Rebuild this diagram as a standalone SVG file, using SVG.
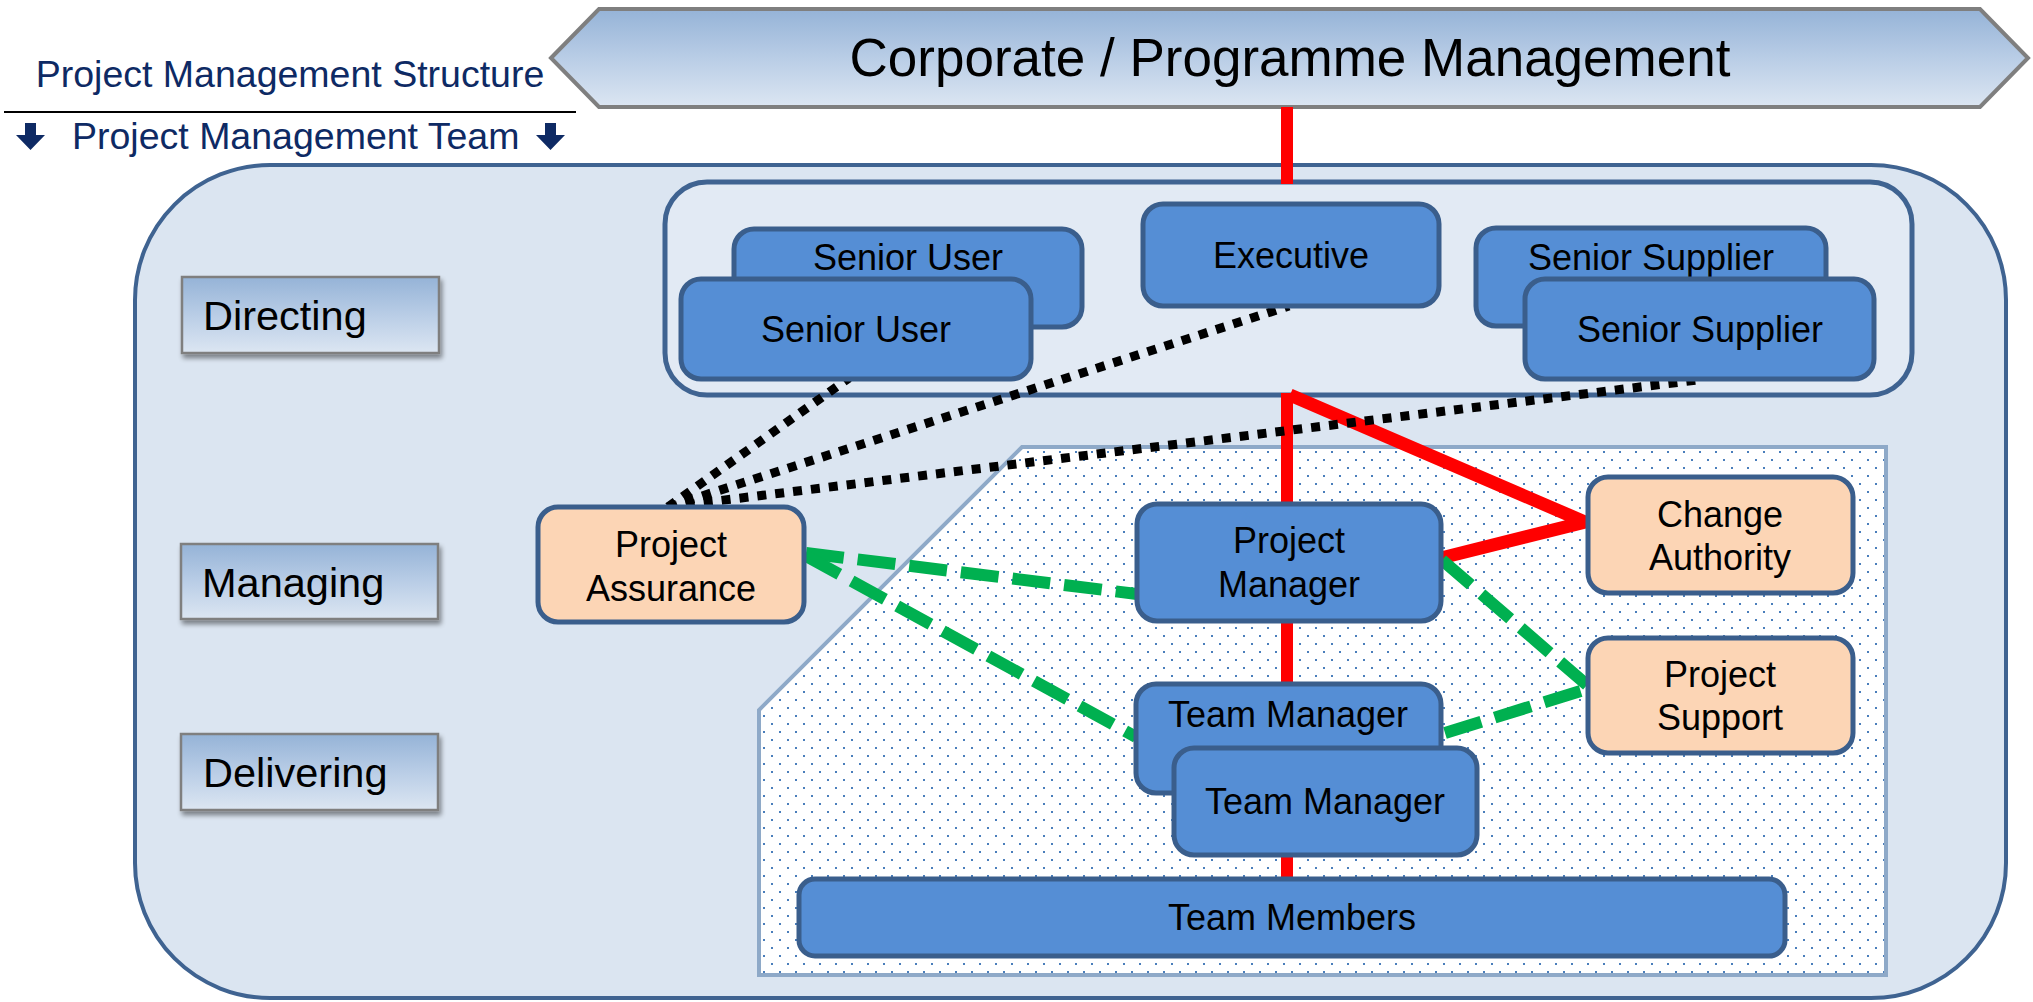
<svg xmlns="http://www.w3.org/2000/svg" width="2033" height="1002" viewBox="0 0 2033 1002">
<defs>
<style>
text{font-family:"Liberation Sans",Arial,sans-serif;}
.node{fill:#558ed5;stroke:#3a5e8c;stroke-width:5;}
.peach{fill:#fcd5b5;stroke:#3a5e8c;stroke-width:5;}
.nt{font-size:36px;fill:#000;text-anchor:middle;}
.phase{fill:url(#gradPhase);stroke:#7f7f7f;stroke-width:2.5;}
.pt{font-size:41.5px;fill:#000;}
.navy{fill:#0e2a64;font-size:37.5px;}
.red{stroke:#ff0000;fill:none;stroke-linejoin:miter;}
.dot{stroke:#000;stroke-width:9;stroke-dasharray:9 9;fill:none;}
.green{stroke:#00b050;stroke-width:12;stroke-dasharray:38 14;fill:none;}
</style>
<linearGradient id="gradPhase" x1="0" y1="0" x2="0" y2="1">
<stop offset="0" stop-color="#95b3d7"/>
<stop offset="0.5" stop-color="#b9cde6"/>
<stop offset="1" stop-color="#dce6f2"/>
</linearGradient>
<pattern id="dots" x="0" y="0" width="16" height="16" patternUnits="userSpaceOnUse">
<rect width="16" height="16" fill="#ffffff"/>
<rect x="3" y="3" width="2" height="2" fill="#4a7ebb"/>
<rect x="11" y="11" width="2" height="2" fill="#4a7ebb"/>
</pattern>
<filter id="shadow" x="-10%" y="-10%" width="120%" height="140%">
<feGaussianBlur in="SourceAlpha" stdDeviation="2.5"/>
<feOffset dx="2" dy="4" result="b"/>
<feComponentTransfer><feFuncA type="linear" slope="0.45"/></feComponentTransfer>
<feMerge><feMergeNode/><feMergeNode in="SourceGraphic"/></feMerge>
</filter>
</defs>

<rect width="2033" height="1002" fill="#ffffff"/>

<g id="header">
<text class="navy" x="290" y="87" text-anchor="middle">Project Management Structure</text>
<line x1="4" y1="112" x2="576" y2="112" stroke="#000" stroke-width="2"/>
<polygon points="25,123 36,123 36,135 45,135 30.5,150 16,135 25,135" fill="#0e2a64"/>
<text class="navy" x="72" y="149">Project Management Team</text>
<polygon points="545,123 556,123 556,135 565,135 550.5,150 536,135 545,135" fill="#0e2a64"/>
</g>

<g id="corporate">
<polygon points="551,58 599,9 1980,9 2028,58 1980,107 599,107" fill="url(#gradPhase)" stroke="#7f7f7f" stroke-width="4"/>
<text x="1290" y="76" font-size="53" text-anchor="middle" fill="#000">Corporate / Programme Management</text>
</g>

<g id="team-container">
<rect x="135" y="165" width="1871" height="833" rx="135" ry="135" fill="#dbe5f1" stroke="#3f6391" stroke-width="4"/>
</g>

<g id="board-container">
<rect x="665" y="182" width="1247" height="213" rx="42" ry="42" fill="#e2eaf4" stroke="#3f6391" stroke-width="5"/>
</g>

<g id="delivery-area">
<polygon points="1022,447 1886,447 1886,975 759,975 759,710" fill="url(#dots)" stroke="#8ea9c8" stroke-width="4"/>
</g>

<g id="phase-directing"><rect class="phase" x="182" y="277" width="257" height="76" filter="url(#shadow)"/><text class="pt" x="203" y="330">Directing</text></g>
<g id="phase-managing"><rect class="phase" x="181" y="544" width="257" height="75" filter="url(#shadow)"/><text class="pt" x="202" y="597">Managing</text></g>
<g id="phase-delivering"><rect class="phase" x="181" y="734" width="257" height="76" filter="url(#shadow)"/><text class="pt" x="203" y="787">Delivering</text></g>

<g id="connectors">
<line class="red" x1="1287" y1="107" x2="1287" y2="184" stroke-width="12"/>
<polyline class="red" points="1287,504 1287,393" stroke-width="12"/>
<polyline class="red" points="1290,395 1585,522 1441,558" stroke-width="13"/>
<line class="red" x1="1287" y1="621" x2="1287" y2="684" stroke-width="12"/>
<line class="red" x1="1287" y1="855" x2="1287" y2="879" stroke-width="12"/>
<line class="green" x1="806" y1="553" x2="1137" y2="594"/>
<line class="green" x1="806" y1="556" x2="1136" y2="737"/>
<line class="green" x1="1442" y1="560" x2="1587" y2="685"/>
<line class="green" x1="1445" y1="733" x2="1587" y2="689"/>
<line class="dot" x1="668" y1="507" x2="849" y2="378"/>
<line class="dot" x1="668" y1="507" x2="1289" y2="306"/>
<line class="dot" x1="668" y1="507" x2="1697" y2="380"/>
</g>

<g id="senior-user-back"><rect class="node" x="734" y="229" width="348" height="98" rx="20"/><text class="nt" x="908" y="270">Senior User</text></g>
<g id="senior-user-front"><rect class="node" x="681" y="279" width="350" height="100" rx="20"/><text class="nt" x="856" y="342">Senior User</text></g>
<g id="executive"><rect class="node" x="1143" y="204" width="296" height="102" rx="20"/><text class="nt" x="1291" y="268">Executive</text></g>
<g id="senior-supplier-back"><rect class="node" x="1476" y="228" width="350" height="98" rx="20"/><text class="nt" x="1651" y="270">Senior Supplier</text></g>
<g id="senior-supplier-front"><rect class="node" x="1525" y="279" width="349" height="100" rx="20"/><text class="nt" x="1700" y="342">Senior Supplier</text></g>

<g id="project-assurance"><rect class="peach" x="538" y="507" width="266" height="115" rx="20"/><text class="nt" x="671" y="557">Project</text><text class="nt" x="671" y="601">Assurance</text></g>
<g id="project-manager"><rect class="node" x="1137" y="504" width="304" height="117" rx="20"/><text class="nt" x="1289" y="553">Project</text><text class="nt" x="1289" y="597">Manager</text></g>
<g id="change-authority"><rect class="peach" x="1588" y="477" width="265" height="116" rx="20"/><text class="nt" x="1720" y="527">Change</text><text class="nt" x="1720" y="570">Authority</text></g>
<g id="project-support"><rect class="peach" x="1588" y="638" width="265" height="115" rx="20"/><text class="nt" x="1720" y="687">Project</text><text class="nt" x="1720" y="730">Support</text></g>

<g id="team-manager-back"><rect class="node" x="1136" y="684" width="305" height="109" rx="20"/><text class="nt" x="1288" y="727">Team Manager</text></g>
<g id="team-manager-front"><rect class="node" x="1174" y="748" width="303" height="107" rx="20"/><text class="nt" x="1325" y="814">Team Manager</text></g>
<g id="team-members"><rect class="node" x="799" y="879" width="986" height="77" rx="16"/><text class="nt" x="1292" y="930">Team Members</text></g>
</svg>
